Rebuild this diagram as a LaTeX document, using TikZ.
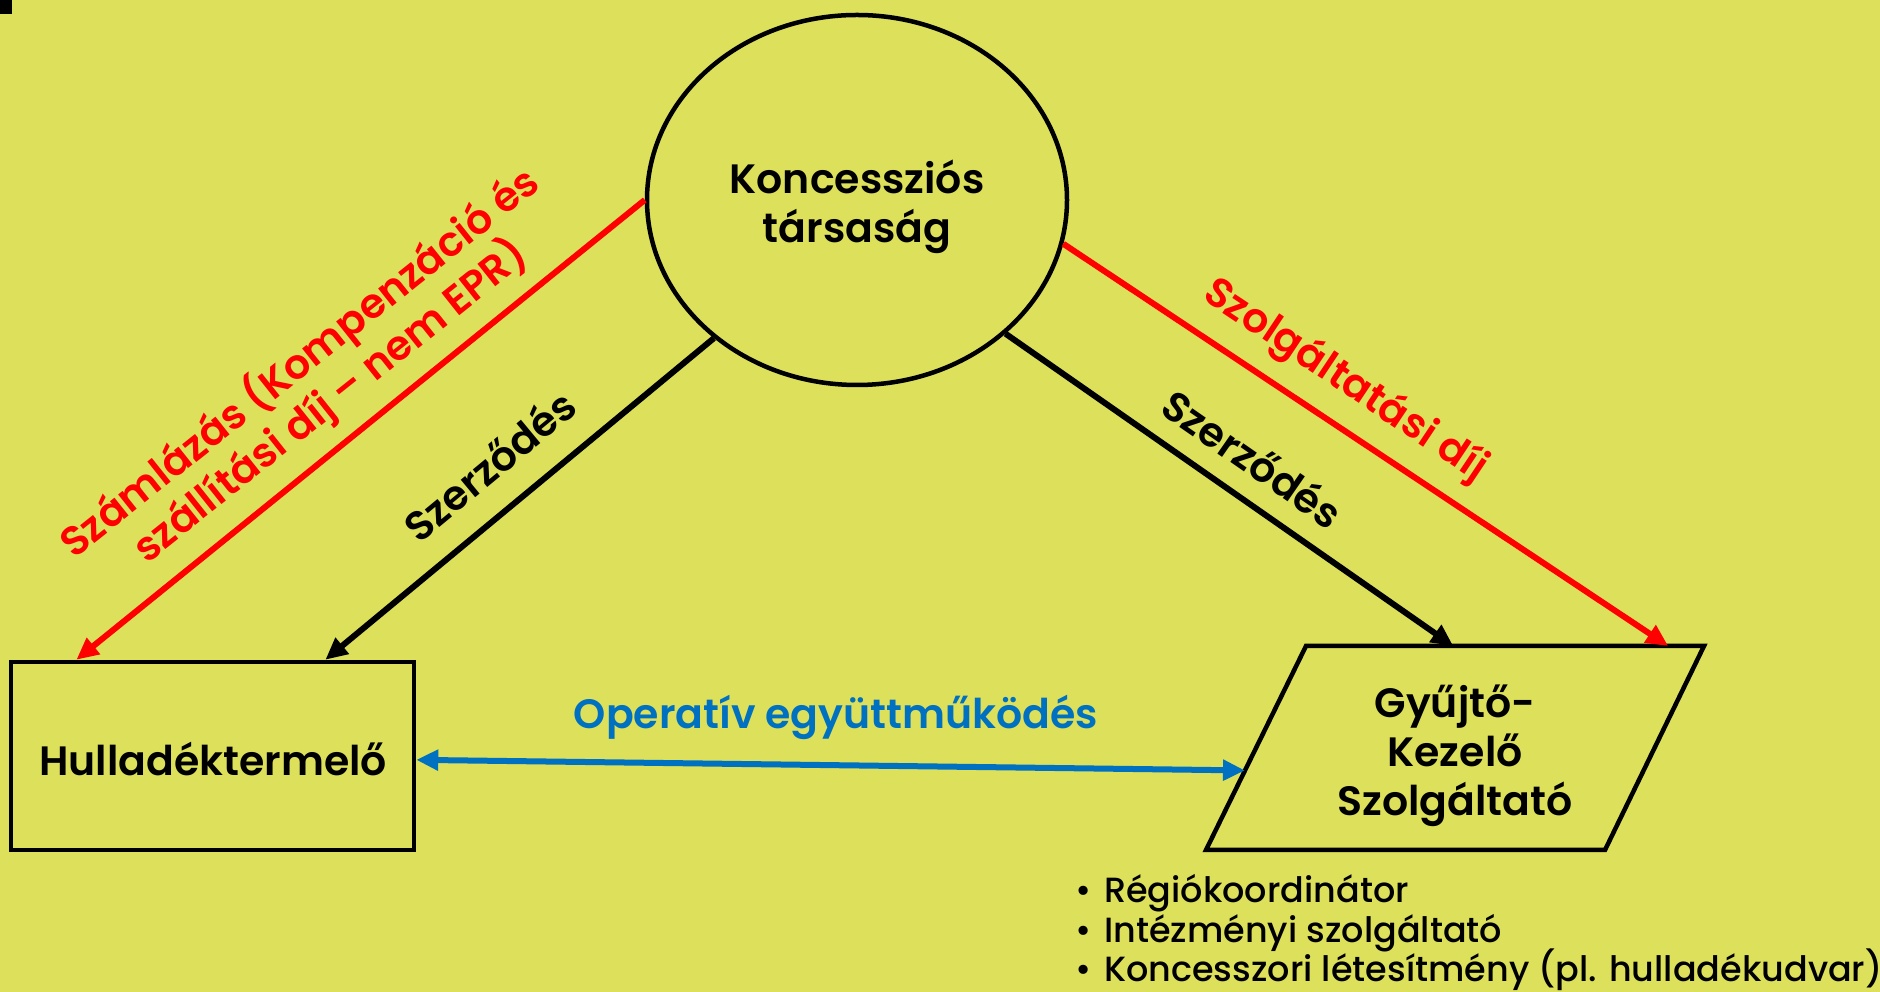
\documentclass[tikz,border=0pt]{standalone}
\usepackage{fontspec}
\setmainfont{Poppins}[BoldFont={Poppins SemiBold}]
\newfontfamily\medfont{Poppins Medium}
\usetikzlibrary{shapes.geometric,arrows.meta,calc}

\definecolor{hatter}{RGB}{221,224,90}
\definecolor{piros}{RGB}{255,0,0}
\definecolor{kek}{RGB}{0,112,192}

\tikzset{
  doboz/.style={draw=black,line width=4.5pt},
  nyil/.style={line width=6pt,-{Triangle[length=22pt,width=20pt]}},
  kettos/.style={line width=6pt,{Triangle[length=22pt,width=20pt]}-{Triangle[length=22pt,width=20pt]}},
  cimke/.style={font=\bfseries\fontsize{41}{49}\selectfont,inner sep=0pt},
  cim/.style={font=\bfseries\fontsize{41}{49}\selectfont,align=center},
  lista/.style={anchor=base west,inner sep=0pt,font=\medfont\fontsize{35}{40}\selectfont}
}

\begin{document}
\begin{tikzpicture}[x=1pt,y=1pt]

\fill[hatter] (0,0) rectangle (1880,992) ;
\useasboundingbox (0,0) rectangle (1880,992) ;
\fill[black] (0,978) rectangle (12,992) ;

% szereplok
\node[ellipse,doboz,minimum width=420pt,minimum height=370pt,inner sep=0pt] (ksz) at (857,792) {} ;
\node[cim] (ksztxt) at (857,785) {Koncessziós\\társaság} ;
\node[rectangle,doboz,minimum width=403pt,minimum height=188pt] (htm) at (212.5,236) {} ;
\node[cim] (htmtxt) at (213,233) {Hulladéktermelő} ;

\coordinate (gbl) at (1206,142) ;
\coordinate (gbr) at (1605,142) ;
\coordinate (gtr) at (1704,346) ;
\coordinate (gtl) at (1306,346) ;
\draw[doboz] (gbl) -- (gbr) -- (gtr) -- (gtl) -- cycle ;
\node[cim] (gyk) at (1455,236) {Gyűjtő-\\Kezelő\\Szolgáltató} ;

% kapcsolatok
\draw[nyil,piros] (ksz.west) -- ($(htm.north west)!0.166!(htm.north east)$) ;
\draw[nyil] (ksz.224) -- ($(htm.north west)!0.777!(htm.north east)$) ;
\draw[nyil] (ksz.318) -- ($(gtl)!0.37!(gtr)$) ;
\draw[nyil,piros] (ksz.348) -- ($(gtl)!0.91!(gtr)$) ;
\draw[kettos,kek] ($(htm.north east)!0.52!(htm.south east)$) -- ($(gbl)!0.39!(gtl)$) ;

% feliratok
\node[cimke,piros,rotate=38.5,align=center] (szamla) at (315,610) {Számlázás (Kompenzáció és\\szállítási díj – nem EPR)} ;
\node[cimke,rotate=39.6] (szl) at (489,527) {Szerződés} ;
\node[cimke,rotate=-34.8] (szr) at (1253,534) {Szerződés} ;
\node[cimke,piros,rotate=-33.7] (szd) at (1345,611) {Szolgáltatási díj} ;
\node[cimke,kek] (oper) at (836,275) {Operatív együttműködés} ;

\node[lista] (l1) at (1075,89) {\makebox[29pt][l]{\textbullet}Régiókoordinátor} ;
\node[lista] (l2) at (1075,49.5) {\makebox[29pt][l]{\textbullet}Intézményi szolgáltató} ;
\node[lista] (l3) at (1075,10) {\makebox[29pt][l]{\textbullet}Koncesszori létesítmény (pl. hulladékudvar)} ;

\end{tikzpicture}
\end{document}
